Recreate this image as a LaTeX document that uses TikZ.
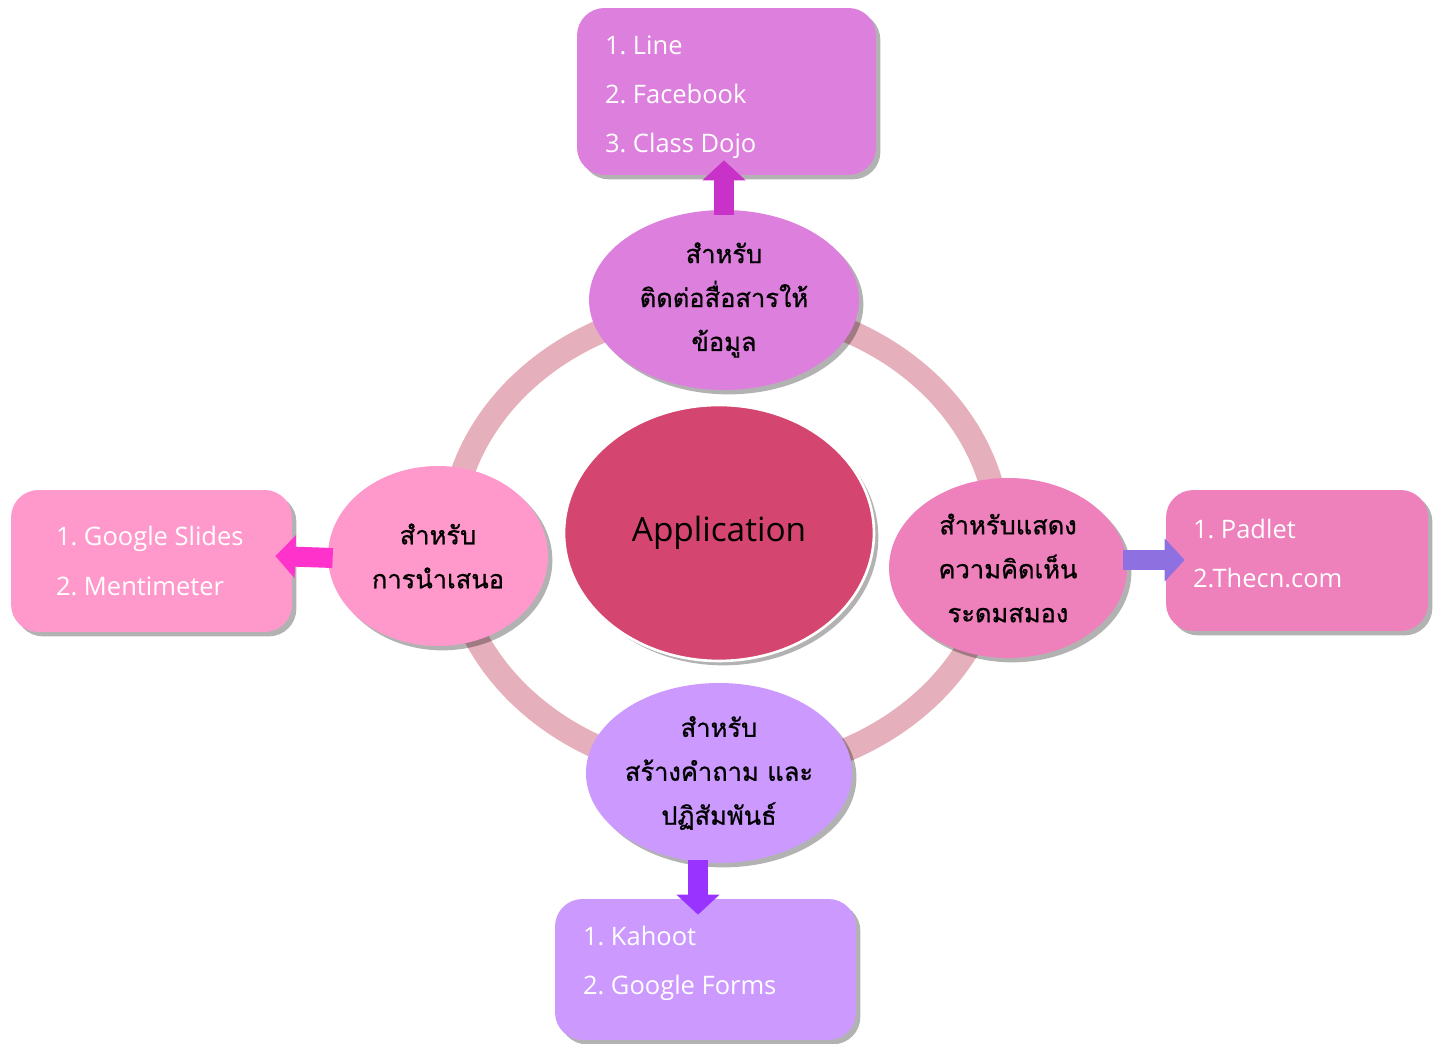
\documentclass[tikz,border=0pt]{standalone}
\usepackage{fontspec}
\setmainfont{Open Sans}
\newfontfamily\thaifont[Script=Thai,FakeBold=0.8]{Loma}
\usetikzlibrary{shapes.geometric,shadows,arrows.meta,calc}
\frenchspacing

\definecolor{ringc}{RGB}{229,176,187}
\definecolor{hubc}{RGB}{212,70,111}
\definecolor{talkc}{RGB}{221,128,221}
\definecolor{showc}{RGB}{255,153,204}
\definecolor{ideac}{RGB}{238,128,187}
\definecolor{quizc}{RGB}{204,153,255}
\definecolor{talkarr}{RGB}{200,50,200}
\definecolor{showarr}{RGB}{255,51,204}
\definecolor{ideaarr}{RGB}{143,112,224}
\definecolor{quizarr}{RGB}{153,51,255}

\begin{document}
\begin{tikzpicture}[x=0.02cm,y=0.02cm,
		shade/.style={drop shadow={shadow xshift=2.5pt,shadow yshift=-2.5pt,opacity=.3,fill=black}},
		bubble/.style={ellipse,fill=#1,shade,align=center,inner sep=0pt,
			minimum height=3.6cm,font=\thaifont\fontsize{14.5}{25}\selectfont},
		listbox/.style={rectangle,rounded corners=0.55cm,fill=#1,shade},
		listtext/.style={anchor=west,inner sep=0pt,text=white,align=left,
			font=\fontsize{14.5}{28}\selectfont},
		link/.style={line width=0.4cm,draw=#1,-{Triangle[length=0.4cm,width=0.84cm]}}]
	\useasboundingbox (0,0) rectangle (1438,1044);

	% ring behind the bubbles
	\draw[ringc,line width=0.48cm] (725,504) ellipse [x radius=274,y radius=234];

	% list boxes
	\node[listbox=talkc,minimum width=5.98cm,minimum height=3.34cm] (talkbox) at (726.5,952.5) {};
	\node[listbox=showc,minimum width=5.62cm,minimum height=2.84cm] (showbox) at (151.5,483) {};
	\node[listbox=ideac,minimum width=5.24cm,minimum height=2.82cm] (ideabox) at (1297,483.5) {};
	\node[listbox=quizc,minimum width=6.02cm,minimum height=2.82cm] (quizbox) at (705.5,74.5) {};
	\node[listtext] (talklist) at ($(talkbox.west)+(28,-6)$) {1. Line\\2. Facebook\\3. Class Dojo};
	\node[listtext] (showlist) at ($(showbox.west)+(45,0)$) {1. Google Slides\\2. Mentimeter};
	\node[listtext] (idealist) at ($(ideabox.west)+(27,7)$) {1. Padlet\\2.Thecn.com};
	\node[listtext] (quizlist) at ($(quizbox.west)+(28,6)$) {1. Kahoot\\2. Google Forms};

	% bubbles round the hub
	\node[bubble=talkc,minimum width=5.4cm] (talk) at (724,744)
		{สำหรับ\\ติดต่อสื่อสารให้\\ข้อมูล};
	\node[bubble=showc,minimum width=4.4cm] (show) at (438,488)
		{สำหรับ\\การนำเสนอ};
	\node[bubble=ideac,minimum width=4.76cm] (idea) at (1008,476)
		{สำหรับแสดง\\ความคิดเห็น\\ระดมสมอง};
	\node[bubble=quizc,minimum width=5.26cm] (quiz) at (719,271)
		{สำหรับ\\สร้างคำถาม และ\\ปฏิสัมพันธ์};
	\node[ellipse,fill=hubc,draw=white,line width=1.5pt,shade,
		minimum width=6.2cm,minimum height=5.12cm,
		font=\fontsize{19}{23}\selectfont] (hub) at (719,511) {Application};

	% block arrows into the boxes
	\draw[link=talkarr] ([yshift=-0.1cm]talk.north) -- ([yshift=0.3cm]talk.north |- talkbox.south);
	\draw[link=showarr] ([xshift=0.1cm,yshift=-0.04cm]show.west) -- ([xshift=-0.34cm]showbox.east |- show.west);
	\draw[link=ideaarr] ($(idea.east)+(-4,8)$) -- ($(ideabox.west |- idea.east)+(19,8)$);
	\draw[link=quizarr] ($(quiz.south)+(-21,3)$) -- ($(quizbox.north -| quiz.south)+(-21,-16)$);
\end{tikzpicture}
\end{document}
